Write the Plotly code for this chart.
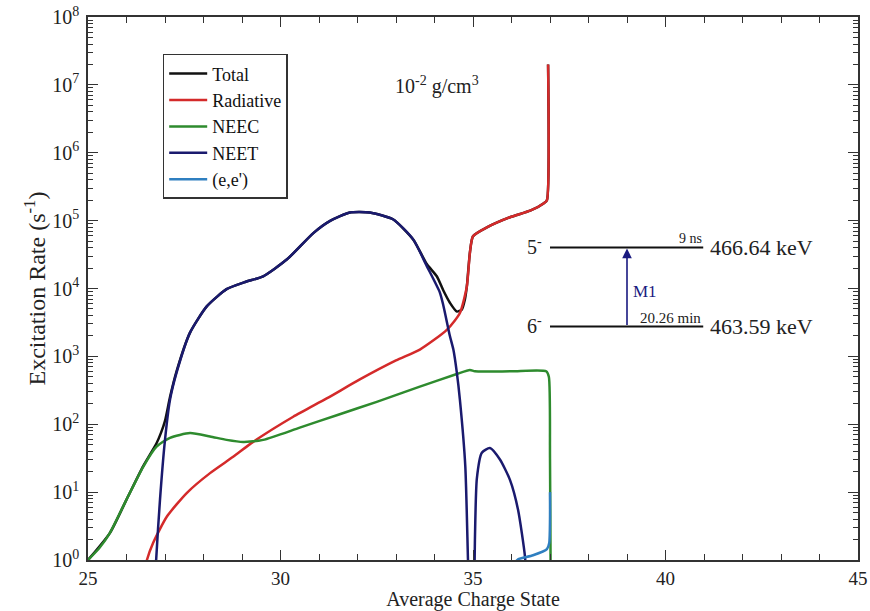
import plotly.graph_objects as go

# ---- data (x = average charge state, values = log10 of excitation rate in s^-1) ----
total_x = [25.0, 25.57, 26.0, 26.43, 26.78, 26.9, 27.0, 27.13, 27.3, 27.65, 28.09, 28.6, 29.1, 29.55,
           30.17, 30.86, 31.3, 31.8, 32.32, 32.92, 33.45, 33.8, 34.06, 34.23, 34.4, 34.58, 34.71,
           34.79, 34.84, 34.92, 35.0, 35.36, 35.96, 36.5, 36.85, 36.92, 36.95]
total_log = [0.0, 0.40, 0.89, 1.38, 1.72, 1.88, 2.05, 2.40, 2.78, 3.35, 3.74, 3.99, 4.10, 4.18,
             4.43, 4.82, 5.0, 5.12, 5.12, 5.02, 4.72, 4.36, 4.18, 3.97, 3.79, 3.66, 3.69,
             3.84, 4.03, 4.53, 4.77, 4.90, 5.05, 5.15, 5.26, 5.30, 7.30]

rad_x = [26.45, 26.53, 26.69, 27.05, 27.57, 28.17, 28.77, 29.29, 30.33, 31.2, 32.06, 33.0, 33.62,
         34.32, 34.66, 34.84, 34.92, 35.0, 35.36, 35.96, 36.5, 36.85, 36.92, 36.95]
rad_log = [-0.2, 0.0, 0.25, 0.64, 0.99, 1.28, 1.52, 1.74, 2.11, 2.38, 2.66, 2.94, 3.10,
           3.39, 3.64, 4.03, 4.53, 4.77, 4.90, 5.05, 5.15, 5.26, 5.30, 7.30]

neec_x = [25.0, 25.3, 25.57, 26.0, 26.43, 26.78, 27.13, 27.65, 28.17, 28.6, 29.03, 29.55, 30.5,
          31.5, 32.5, 33.6, 34.58, 34.92, 35.05, 36.0, 36.9, 36.97, 37.0, 37.02]
neec_log = [0.0, 0.18, 0.40, 0.89, 1.37, 1.67, 1.80, 1.87, 1.82, 1.77, 1.74, 1.77, 1.95,
            2.14, 2.33, 2.55, 2.74, 2.80, 2.78, 2.78, 2.78, 2.70, 1.5, -0.5]

neet_x = [26.74, 26.77, 26.87, 27.0, 27.13, 27.3, 27.65, 28.09, 28.6, 29.1, 29.55, 30.17, 30.86,
          31.3, 31.8, 32.32, 32.92, 33.45, 33.8, 34.14, 34.23, 34.4, 34.49, 34.58, 34.66, 34.8,
          34.87, 34.9,
          None,
          35.03, 35.05, 35.1, 35.23, 35.44, 35.7, 35.96, 36.17, 36.35, 36.38]
neet_log = [-0.5, 0.0, 0.89, 1.77, 2.36, 2.76, 3.35, 3.74, 3.99, 4.10, 4.18, 4.43, 4.82,
            5.0, 5.12, 5.12, 5.02, 4.72, 4.33, 3.94, 3.75, 3.30, 3.10, 2.76, 2.36, 1.38,
            0.0, -0.5,
            None,
            -0.5, 0.3, 1.2, 1.58, 1.65, 1.48, 1.18, 0.74, 0.05, -0.3]

ee_x = [36.1, 36.17, 36.56, 36.92, 36.98, 37.0, 37.0]
ee_log = [-0.03, 0.01, 0.07, 0.16, 0.25, 0.6, 1.0]

y_tick_vals = [10 ** k for k in range(0, 9)]
y_tick_text = ["10<sup>%d</sup>" % k for k in range(0, 9)]
x_tick_vals = [25, 30, 35, 40, 45]


def to_rate(logs):
    return [None if v is None else 10 ** v for v in logs]


FONT = "Liberation Serif"
fig = go.Figure()
series = [
    ("Total", total_x, total_log, "#111111"),
    ("Radiative", rad_x, rad_log, "#d42a2a"),
    ("NEEC", neec_x, neec_log, "#2e8b2e"),
    ("NEET", neet_x, neet_log, "#1a1a6e"),
    ("(e,e')", ee_x, ee_log, "#2f7fc0"),
]
for name, xs, ls, col in series:
    fig.add_trace(go.Scatter(x=xs, y=to_rate(ls), mode="lines", name=name,
                             line=dict(color=col, width=2.5, shape="spline", smoothing=0.6),
                             connectgaps=False))

minor_vals = [m * 10 ** k for k in range(0, 8) for m in range(2, 10)]

fig.update_layout(
    width=870, height=611,
    margin=dict(l=88, r=12, t=17, b=51),
    paper_bgcolor="white", plot_bgcolor="white",
    font=dict(family=FONT, size=17, color="#222"),
    showlegend=True,
    legend=dict(x=0.097, y=0.932, xanchor="left", yanchor="top",
                bordercolor="#333", borderwidth=1.5, bgcolor="white",
                font=dict(family=FONT, size=18, color="#111"),
                tracegroupgap=0, itemwidth=38),
    xaxis=dict(range=[25, 45], tickvals=x_tick_vals, ticks="inside", ticklen=10,
               tickwidth=1.3, tickcolor="#333", showline=True, linecolor="#333", linewidth=1.5,
               mirror="ticks", showgrid=False, zeroline=False, automargin=False,
               ticklabelstandoff=0,
               minor=dict(dtick=1, ticks="inside", ticklen=6, tickcolor="#333", showgrid=False),
               title=dict(text="Average Charge State", font=dict(family=FONT, size=20), standoff=3),
               tickfont=dict(family=FONT, size=19)),
    yaxis=dict(type="log", range=[0, 8], tickvals=y_tick_vals, ticktext=y_tick_text,
               ticks="inside", ticklen=10, tickwidth=1.3, tickcolor="#333",
               showline=True, linecolor="#333", linewidth=1.5, mirror="ticks",
               showgrid=False, zeroline=False, automargin=False, ticklabelstandoff=3,
               minor=dict(tickmode="array", tickvals=minor_vals, ticks="inside", ticklen=5,
                          tickcolor="#333", showgrid=False),
               title=dict(text="Excitation Rate (s<sup>-1</sup>)", font=dict(family=FONT, size=24),
                          standoff=0),
               tickfont=dict(family=FONT, size=20)),
)

# level diagram and annotations (paper coordinates)
y5, y6 = 0.5756, 0.430
for yy in (y5, y6):
    fig.add_shape(type="line", xref="paper", yref="paper", x0=0.600, x1=0.799, y0=yy, y1=yy,
                  line=dict(color="#111", width=2))

ann = [
    (0.4536, 0.873, "10<sup>-2</sup> g/cm<sup>3</sup>", 20, "#222"),
    (0.580, 0.578, "5<sup>-</sup>", 20, "#222"),
    (0.580, 0.432, "6<sup>-</sup>", 20, "#222"),
    (0.782, 0.592, "9 ns", 14, "#222"),
    (0.756, 0.445, "20.26 min", 15, "#222"),
    (0.875, 0.576, "466.64 keV", 22, "#222"),
    (0.875, 0.430, "463.59 keV", 22, "#222"),
    (0.724, 0.494, "M1", 17, "#1a1a80"),
]
for x, y, t, s, c in ann:
    fig.add_annotation(x=x, y=y, xref="paper", yref="paper", text=t, showarrow=False,
                       xanchor="center", yanchor="middle",
                       font=dict(family=FONT, size=s, color=c))

fig.add_annotation(x=0.700, y=y5 - 0.002, xref="paper", yref="paper", text="", showarrow=True,
                   ax=0, ay=78, arrowhead=2, arrowsize=1.2, arrowwidth=1.6, arrowcolor="#1a1a80")

fig.write_html("out.html", config={"displayModeBar": False},
               post_script="document.body.style.margin='0';document.body.style.padding='0';"
                           "document.documentElement.style.overflow='hidden';")
